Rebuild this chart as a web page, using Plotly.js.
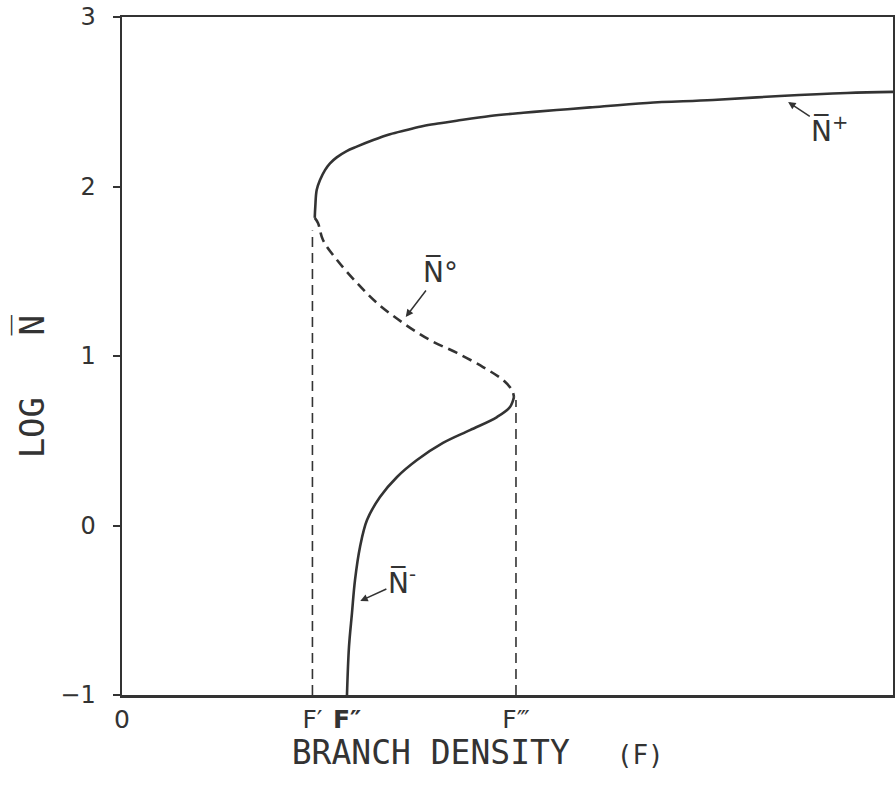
<!DOCTYPE html>
<html>
<head>
<meta charset="utf-8">
<script src="https://cdn.plot.ly/plotly-3.0.1.min.js"></script>
<style>html,body{margin:0;padding:0;background:#fff;}#chart{width:895px;height:796px;}</style>
</head>
<body>
<div id="chart"></div>
<script>
// Upper stable branch N+
const upperF = [0.2500, 0.2507, 0.2525, 0.2568, 0.2633, 0.2698, 0.2785, 0.2914, 0.3044, 0.3259, 0.3476, 0.3693, 0.3908, 0.4125, 0.4341, 0.4773, 0.5205, 0.5638, 0.6070, 0.6809, 0.7665, 0.8534, 0.9403, 1.0];
const upperLogN = [1.815, 1.881, 1.979, 2.038, 2.097, 2.137, 2.172, 2.209, 2.235, 2.274, 2.308, 2.333, 2.357, 2.373, 2.388, 2.416, 2.435, 2.451, 2.467, 2.493, 2.510, 2.534, 2.552, 2.558];
// Middle unstable branch N0 (dashed)
const midF = [0.2500, 0.2542, 0.2607, 0.2789, 0.3048, 0.3307, 0.3645, 0.3995, 0.4345, 0.4682, 0.4942, 0.5058, 0.5084];
const midLogN = [1.815, 1.785, 1.684, 1.566, 1.431, 1.313, 1.195, 1.094, 1.018, 0.935, 0.858, 0.799, 0.758];
// Lower stable branch N-
const lowerF = [0.5084, 0.5032, 0.4864, 0.4514, 0.4163, 0.3826, 0.3567, 0.3346, 0.3178, 0.3087, 0.3022, 0.2983, 0.2944, 0.2918];
const lowerLogN = [0.758, 0.699, 0.640, 0.563, 0.487, 0.386, 0.286, 0.168, 0.032, -0.127, -0.322, -0.516, -0.717, -1.0];
// Vertical dashed guides at F' and F'''
const guide1F = [0.247, 0.247];
const guide1LogN = [-1, 1.74];
const guide2F = [0.511, 0.511];
const guide2LogN = [-1, 0.74];
// Tick labels
const xTickVals = [0, 0.247, 0.292, 0.511, 1];
const xTickText = ["0", "F\u2032", "<b>F\u2033</b>", "F\u2034", "1"];
const yTickVals = [-1, 0, 1, 2, 3];
const yTickText = ["\u22121", "0", "1", "2", "3"];

const ink = '#333';
const solid = {color: ink, width: 2.6, shape: 'spline', smoothing: 1};

const traces = [
  {x: upperF, y: upperLogN, mode: 'lines', line: solid, hoverinfo: 'skip'},
  {x: midF, y: midLogN, mode: 'lines', line: {color: ink, width: 2.6, dash: '10px,6px', shape: 'spline', smoothing: 1}, hoverinfo: 'skip'},
  {x: lowerF, y: lowerLogN, mode: 'lines', line: solid, hoverinfo: 'skip'},
  {x: guide1F, y: guide1LogN, mode: 'lines', line: {color: ink, width: 1.6, dash: '10px,6px'}, hoverinfo: 'skip'},
  {x: guide2F, y: guide2LogN, mode: 'lines', line: {color: ink, width: 1.6, dash: '10px,6px'}, hoverinfo: 'skip'}
];

const annFont = {family: 'DejaVu Sans', size: 28, color: ink};
const layout = {
  width: 895, height: 796,
  margin: {l: 122, r: 2, t: 17, b: 101},
  paper_bgcolor: '#fff', plot_bgcolor: '#fff',
  showlegend: false,
  font: {family: 'DejaVu Sans Mono', color: ink},
  xaxis: {
    range: [0, 1], showgrid: false, zeroline: false,
    showline: true, linecolor: ink, linewidth: 2.5, mirror: true,
    ticks: '', tickmode: 'array', tickvals: xTickVals, ticktext: xTickText,
    tickfont: {family: 'DejaVu Sans', size: 25, color: ink},
    title: {text: 'BRANCH DENSITY<span style="font-size:26px">\u00a0\u00a0\u00a0(F)</span>\u00a0\u00a0\u00a0\u200b', font: {family: 'DejaVu Sans Mono', size: 33, color: ink}, standoff: 9},
    automargin: false
  },
  yaxis: {
    range: [-1, 3], showgrid: false, zeroline: false,
    showline: true, linecolor: ink, linewidth: 2.5, mirror: true,
    ticks: 'outside', ticklen: 7, tickwidth: 2, tickcolor: ink,
    tickmode: 'array', tickvals: yTickVals, ticktext: yTickText,
    tickfont: {family: 'DejaVu Sans', size: 24, color: ink},
    ticklabelstandoff: 12,
    title: {text: 'LOG\u00a0\u00a0\u00a0N\u0305\u00a0\u00a0\u00a0\u200b', font: {family: 'DejaVu Sans Mono', size: 34, color: ink}, standoff: 6},
    automargin: false
  },
  annotations: [
    {x: 0.864, y: 2.499, ax: 0.918, ay: 2.334, axref: 'x', ayref: 'y', xref: 'x', yref: 'y',
     text: 'N\u0305<sup>+</sup>', font: annFont, showarrow: true, arrowhead: 2, arrowsize: 1, arrowwidth: 1.5, arrowcolor: ink},
    {x: 0.368, y: 1.230, ax: 0.4125, ay: 1.496, axref: 'x', ayref: 'y', xref: 'x', yref: 'y',
     text: 'N\u0305\u00b0', font: annFont, showarrow: true, arrowhead: 2, arrowsize: 1, arrowwidth: 1.5, arrowcolor: ink},
    {x: 0.309, y: -0.445, ax: 0.363, ay: -0.333, axref: 'x', ayref: 'y', xref: 'x', yref: 'y',
     text: 'N\u0305<sup>-</sup>', font: annFont, showarrow: true, arrowhead: 2, arrowsize: 1, arrowwidth: 1.5, arrowcolor: ink}
  ]
};

Plotly.newPlot('chart', traces, layout, {staticPlot: true, displayModeBar: false});
</script>
</body>
</html>
